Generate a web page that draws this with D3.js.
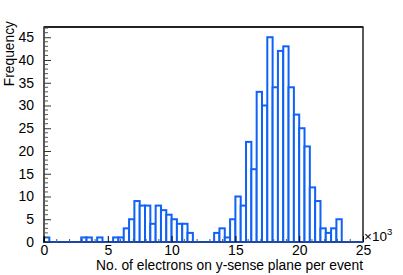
<!DOCTYPE html>
<html><head><meta charset="utf-8">
<script src="https://cdn.jsdelivr.net/npm/d3@7"></script>
<style>body{margin:0;background:#fff}svg{display:block}text{font-family:"Liberation Sans",Arial,sans-serif;fill:#000}</style>
</head><body><div id="c"></div>
<script>
// Histogram: 60 bins from 0 to 25 (x10^3)
const binCount = 60;
const xMin = 0, xMax = 25;
const counts = [1,0,0,0,0,0,0,1,1,0,1,0,0,1,1,3,5,9,8,8,4,8,7,6,5,4,4,2,0,0,0,0,2,3,1,5,10,8,22,16,33,30,45,34,42,43,34,28,25,21,12,9,3,2,3,5,0,0,0,0];
const xTicks = [0,5,10,15,20,25];
const yTicks = [0,5,10,15,20,25,30,35,40,45];
const yMax = 47.25;

const W=403,H=275;
const m={l:44,r:363,t:27,b:242};
const svg=d3.select("#c").append("svg").attr("width",W).attr("height",H);
const x=d3.scaleLinear().domain([xMin,xMax]).range([m.l,m.r]);
const y=d3.scaleLinear().domain([0,yMax]).range([m.b,m.t]);
const bw=(xMax-xMin)/binCount;
const bins=counts.map((c,i)=>({x0:xMin+i*bw,x1:xMin+(i+1)*bw,c}));
const blue="#0f62f5";

// bars
svg.append("g").selectAll("rect").data(bins.filter(d=>d.c>0)).join("rect")
  .attr("x",d=>x(d.x0)).attr("width",d=>x(d.x1)-x(d.x0))
  .attr("y",d=>y(d.c)).attr("height",d=>y(0)-y(d.c))
  .attr("fill","#fff").attr("stroke",blue).attr("stroke-width",2);

// frame
svg.append("rect").attr("x",m.l).attr("y",m.t).attr("width",m.r-m.l).attr("height",m.b-m.t)
  .attr("fill","none").attr("stroke","#000").attr("stroke-width",1.3);
svg.append("line").attr("x1",m.l).attr("x2",m.r).attr("y1",m.t).attr("y2",m.t).attr("stroke","#222").attr("stroke-width",2);
// baseline (histogram outline on zero)
svg.append("line").attr("x1",m.l).attr("x2",m.r).attr("y1",m.b).attr("y2",m.b).attr("stroke","#1b48a8").attr("stroke-width",2.2);

const FS=14;
// y axis
const ya=d3.axisLeft(y).tickValues(yTicks).tickSize(-7).tickPadding(10).tickFormat(d3.format("d"));
const yg=svg.append("g").attr("transform",`translate(${m.l},0)`).call(ya);
yg.select(".domain").remove();
yg.selectAll("text").attr("font-size",FS).style("font-family","Liberation Sans, Arial, sans-serif");
yg.selectAll(".tick line").attr("stroke","#333");
const yMinor=d3.range(0,48).filter(v=>v%5!==0);
svg.append("g").selectAll("line").data(yMinor).join("line")
  .attr("x1",m.l).attr("x2",m.l+4).attr("y1",d=>y(d)).attr("y2",d=>y(d)).attr("stroke","#555");

// x axis
const xa=d3.axisBottom(x).tickValues(xTicks).tickSize(-6).tickPadding(3).tickFormat(d3.format("d"));
const xg=svg.append("g").attr("transform",`translate(0,${m.b})`).call(xa);
xg.select(".domain").remove();
xg.selectAll("text").attr("font-size",FS).style("font-family","Liberation Sans, Arial, sans-serif");
const xMinor=d3.range(0,26).filter(v=>v%5!==0);
svg.append("g").selectAll("line").data(xMinor).join("line")
  .attr("x1",d=>x(d)).attr("x2",d=>x(d)).attr("y1",m.b).attr("y2",m.b-3).attr("stroke","#555");

// labels
svg.append("text").attr("transform",`translate(14,${m.t-6}) rotate(-90)`).attr("text-anchor","end")
  .attr("font-size",13.8).text("Frequency");
svg.append("text").attr("x",m.r).attr("y",270).attr("text-anchor","end").attr("font-size",13.8)
  .text("No. of electrons on y-sense plane per event");
const e=svg.append("text").attr("x",m.r+1).attr("y",241).attr("font-size",13.5);
e.append("tspan").text("×10");
e.append("tspan").attr("dy",-6).attr("font-size",9.5).text("3");
</script></body></html>
